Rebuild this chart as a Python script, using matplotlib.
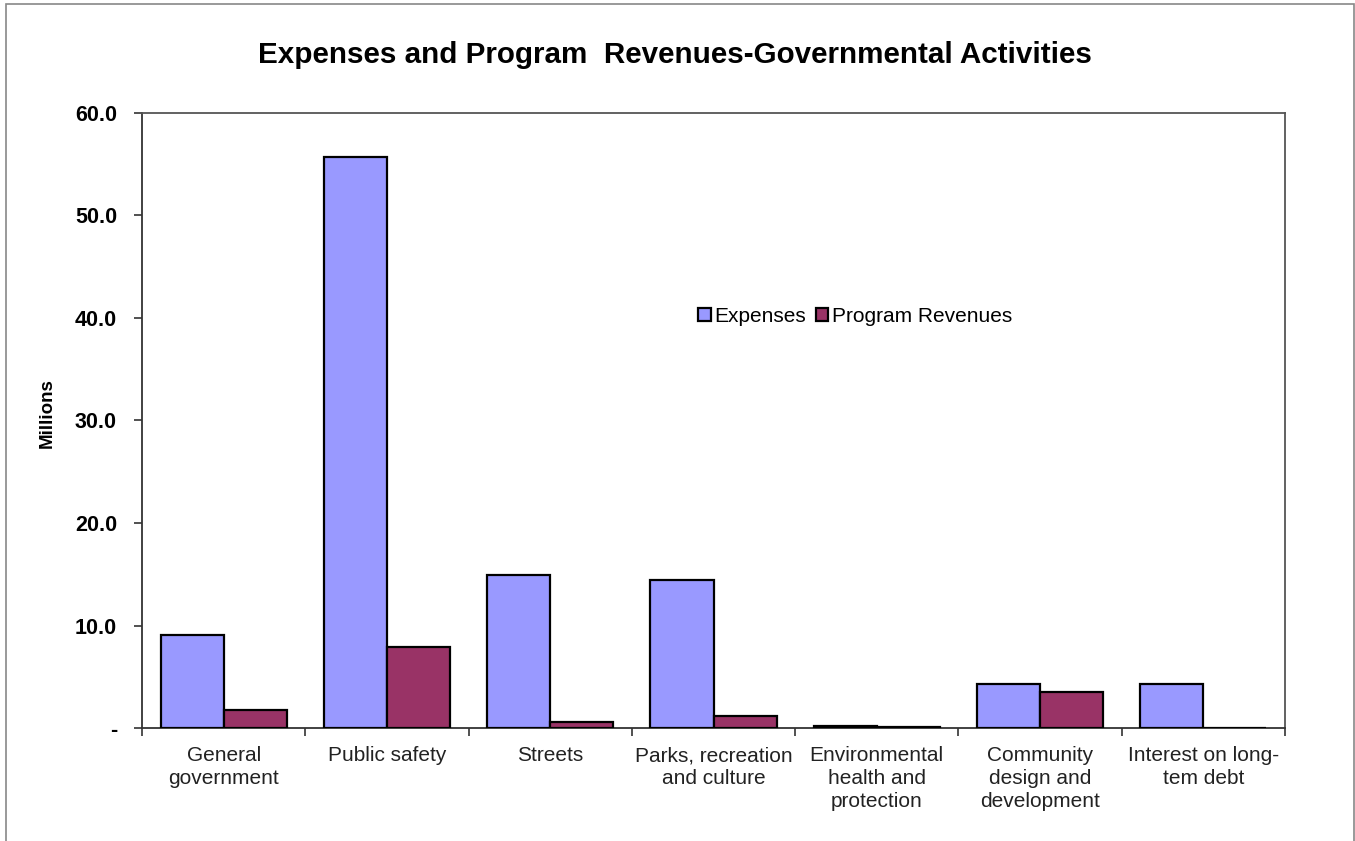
import matplotlib
matplotlib.use('Agg')
import matplotlib.pyplot as plt
from matplotlib.patches import Rectangle
from matplotlib.ticker import FixedLocator
import numpy as np

plt.rcParams['font.family'] = ['Liberation Sans', 'DejaVu Sans']

# activity categories and amounts in millions
categories = ['General\ngovernment', 'Public safety', 'Streets',
              'Parks, recreation\nand culture', 'Environmental\nhealth and\nprotection',
              'Community\ndesign and\ndevelopment', 'Interest on long-\ntem debt']
expenses = [9.1, 55.7, 14.9, 14.4, 0.15, 4.3, 4.3]
program_revenues = [1.8, 7.9, 0.55, 1.2, 0.12, 3.5, 0.0]
y_ticks = [0, 10, 20, 30, 40, 50, 60]
y_tick_labels = ['-', '10.0', '20.0', '30.0', '40.0', '50.0', '60.0']

fig = plt.figure(figsize=(13.55, 8.41), dpi=100)
ax = fig.add_axes([142 / 1355, 1 - 728 / 841, (1285 - 142) / 1355, (728 - 113) / 841])

x = np.arange(len(categories))
w = 0.386
ax.bar(x - w / 2, expenses, w, color='#9999FF', edgecolor='black', linewidth=1.6,
       label='Expenses', zorder=3)
ax.bar(x + w / 2, program_revenues, w, color='#993366', edgecolor='black', linewidth=1.6,
       label='Program Revenues', zorder=3)

ax.set_xlim(-0.5, len(categories) - 0.5)
ax.set_ylim(0, 60)

# y axis
ax.set_yticks(y_ticks)
ax.set_yticklabels(y_tick_labels, fontsize=15.5, fontweight='bold')
ax.tick_params(axis='y', direction='out', length=6, width=1.2, pad=12, color='#333333')
fig.text(47 / 1355, 1 - 413 / 841, 'Millions', rotation=90, ha='center', va='center',
         fontsize=13.5, fontweight='bold')

# x axis: labels at centers, ticks at category boundaries
ax.set_xticks(x)
ax.set_xticklabels(categories, fontsize=15, color='#222222', linespacing=1.25, va='top')
ax.tick_params(axis='x', which='major', length=0, pad=13)
ax.xaxis.set_minor_locator(FixedLocator(np.arange(-0.5, len(categories), 1.0)))
ax.tick_params(axis='x', which='minor', direction='out', length=6, width=1.2, color='#333333')

for side in ['left', 'bottom']:
    ax.spines[side].set_color('#333333')
    ax.spines[side].set_linewidth(1.3)
for side in ['top', 'right']:
    ax.spines[side].set_color('#555555')
    ax.spines[side].set_linewidth(1.3)

fig.text(675 / 1355, 1 - 55 / 841, 'Expenses and Program  Revenues-Governmental Activities',
         ha='center', va='center', fontsize=21.3, fontweight='bold')

ax.legend(loc='center', bbox_to_anchor=(855 / 1355, 1 - 316 / 841),
          bbox_transform=fig.transFigure, ncol=2, frameon=False, fontsize=15,
          handlelength=0.6, handleheight=0.6, handletextpad=0.15, columnspacing=0.5,
          borderpad=0)

# outer chart border
fig.patches.append(Rectangle((6 / 1355, -0.02), (1354 - 6) / 1355, 1.02 - 4 / 841,
                             transform=fig.transFigure, fill=False,
                             edgecolor='#888888', linewidth=1.2))

fig.savefig('out.png', dpi=100)
